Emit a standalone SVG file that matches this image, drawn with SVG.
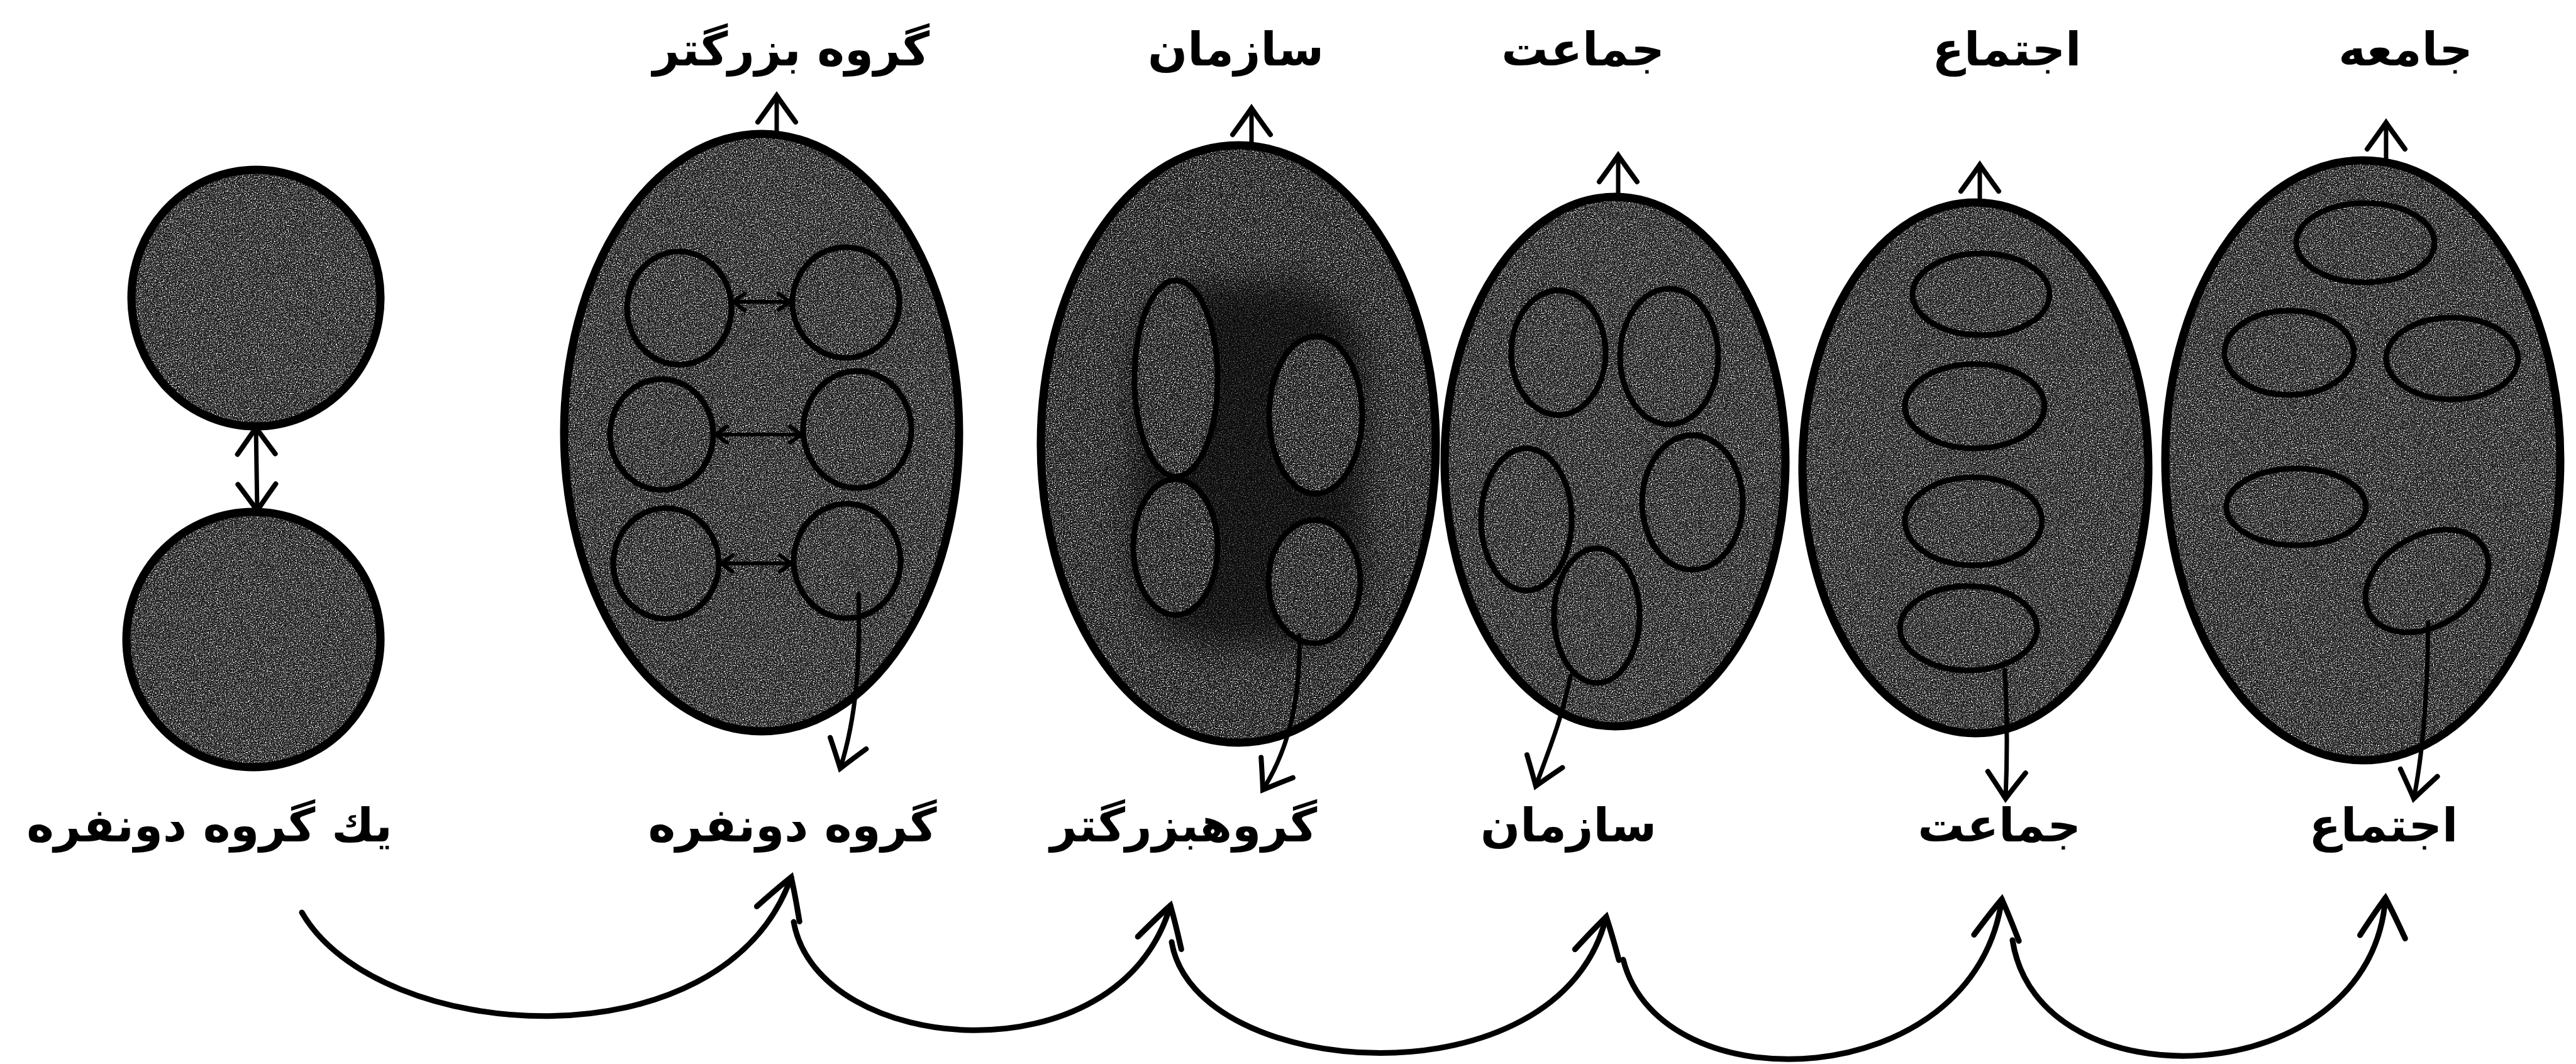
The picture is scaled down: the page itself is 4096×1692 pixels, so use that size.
<svg xmlns="http://www.w3.org/2000/svg" width="4096" height="1692" viewBox="0 0 4096 1692">
<defs>
<style>
.fill{fill:#363636;filter:url(#grain)}
.fill.dark{fill:#2a2a2a}
.rim{fill:none;stroke:#000;stroke-width:13}
.sub{fill:none;stroke:#000;stroke-width:9}
.shade{fill:#000;opacity:0.6;filter:url(#soft)}
.lbl{font-family:"DejaVu Sans",sans-serif;font-size:74px;font-weight:bold;fill:#000;text-anchor:middle}
.arc{fill:none;stroke:#000;stroke-width:9;stroke-linecap:round;marker-end:url(#head)}
.out{fill:none;stroke:#000;stroke-width:7;stroke-linecap:round;marker-end:url(#headSm)}
.dbl{fill:none;stroke:#000;stroke-width:7;marker-start:url(#headSm);marker-end:url(#headSm)}
.link{fill:none;stroke:#000;stroke-width:6;marker-start:url(#headTiny);marker-end:url(#headTiny)}
</style>
<filter id="grain" x="0" y="0" width="1" height="1" color-interpolation-filters="sRGB">
<feTurbulence type="fractalNoise" baseFrequency="0.55" numOctaves="2" seed="4" result="n"/>
<feColorMatrix in="n" type="matrix" values="0 0 0 0 1 0 0 0 0 1 0 0 0 0 1 4 0 0 0 -1.9" result="w"/>
<feColorMatrix in="n" type="matrix" values="0 0 0 0 0 0 0 0 0 0 0 0 0 0 0 0 4 0 0 -1.8" result="k"/>
<feComposite in="w" in2="SourceAlpha" operator="in" result="ws"/>
<feComposite in="k" in2="SourceAlpha" operator="in" result="ks"/>
<feMerge><feMergeNode in="SourceGraphic"/><feMergeNode in="ws"/><feMergeNode in="ks"/></feMerge>
</filter>
<filter id="soft" x="-20%" y="-20%" width="140%" height="140%">
<feGaussianBlur stdDeviation="25"/>
</filter>
<marker id="head" viewBox="-70 -50 80 100" refX="0" refY="0" markerWidth="80" markerHeight="100" markerUnits="userSpaceOnUse" orient="auto-start-reverse" overflow="visible">
<path d="M -62 -36 Q -22 -14 0 0 Q -22 14 -62 36" fill="none" stroke="#000" stroke-width="9" stroke-linecap="round"/>
</marker>
<marker id="headSm" viewBox="-50 -40 60 80" refX="0" refY="0" markerWidth="60" markerHeight="80" markerUnits="userSpaceOnUse" orient="auto-start-reverse" overflow="visible">
<path d="M -42 -30 Q -16 -11 0 0 Q -16 11 -42 30" fill="none" stroke="#000" stroke-width="8" stroke-linecap="round"/>
</marker>
<marker id="headTiny" viewBox="-25 -20 30 40" refX="0" refY="0" markerWidth="30" markerHeight="40" markerUnits="userSpaceOnUse" orient="auto-start-reverse" overflow="visible">
<path d="M -18 -13 L 0 0 L -18 13" fill="none" stroke="#000" stroke-width="6" stroke-linecap="round"/>
</marker>
</defs>
<rect width="4096" height="1692" fill="#fff"/>

<g id="node-dyad">
<ellipse class="fill" cx="407" cy="474" rx="198" ry="204"/>
<ellipse class="rim" cx="407" cy="474" rx="198" ry="204"/>
<ellipse class="fill" cx="403" cy="1017" rx="202" ry="203"/>
<ellipse class="rim" cx="403" cy="1017" rx="202" ry="203"/>
<text class="lbl" x="333" y="1338">يك گروه دونفره</text>
</g>

<g id="node-group">
<ellipse class="fill" cx="1211" cy="688" rx="314" ry="475"/>
<ellipse class="rim" cx="1211" cy="688" rx="314" ry="475"/>
<ellipse class="sub" cx="1080" cy="490" rx="83" ry="90"/>
<ellipse class="sub" cx="1345" cy="481" rx="85" ry="88"/>
<ellipse class="sub" cx="1052" cy="691" rx="82" ry="88"/>
<ellipse class="sub" cx="1363" cy="683" rx="86" ry="93"/>
<ellipse class="sub" cx="1059" cy="896" rx="84" ry="88"/>
<ellipse class="sub" cx="1347" cy="892" rx="85" ry="91"/>
<path class="link" d="M 1166 480 L 1256 480"/>
<path class="link" d="M 1138 691 L 1274 691"/>
<path class="link" d="M 1147 896 L 1258 896"/>
<text class="lbl" x="1258" y="104">گروه بزرگتر</text>
<text class="lbl" x="1260" y="1338">گروه دونفره</text>
</g>

<g id="node-organization">
<ellipse class="fill dark" cx="1969" cy="706" rx="314" ry="475"/>
<ellipse class="rim" cx="1969" cy="706" rx="314" ry="475"/>
<rect class="shade" x="1805" y="448" width="365" height="578" rx="130"/>
<ellipse class="fill dark" cx="1870" cy="602" rx="66" ry="156"/>
<ellipse class="fill dark" cx="1869" cy="870" rx="67" ry="108"/>
<ellipse class="fill dark" cx="2092" cy="660" rx="74" ry="125"/>
<ellipse class="fill dark" cx="2090" cy="925" rx="73" ry="98"/>
<ellipse class="sub" cx="1870" cy="602" rx="66" ry="156"/>
<ellipse class="sub" cx="1869" cy="870" rx="67" ry="108"/>
<ellipse class="sub" cx="2092" cy="660" rx="74" ry="125"/>
<ellipse class="sub" cx="2090" cy="925" rx="73" ry="98"/>
<text class="lbl" x="1965" y="104">سازمان</text>
<text class="lbl" x="1882" y="1338">گروهبزرگتر</text>
</g>

<g id="node-community">
<ellipse class="fill" cx="2568" cy="734" rx="271" ry="421"/>
<ellipse class="rim" cx="2568" cy="734" rx="271" ry="421"/>
<ellipse class="sub" cx="2478" cy="561" rx="75" ry="99"/>
<ellipse class="sub" cx="2654" cy="567" rx="78" ry="108"/>
<ellipse class="sub" cx="2427" cy="826" rx="72" ry="113"/>
<ellipse class="sub" cx="2691" cy="799" rx="80" ry="107"/>
<ellipse class="sub" cx="2539" cy="979" rx="68" ry="107"/>
<text class="lbl" x="2517" y="104">جماعت</text>
<text class="lbl" x="2494" y="1338">سازمان</text>
</g>

<g id="node-assembly">
<ellipse class="fill" cx="3141" cy="744" rx="275" ry="422"/>
<ellipse class="rim" cx="3141" cy="744" rx="275" ry="422"/>
<ellipse class="sub" cx="3150" cy="468" rx="109" ry="65"/>
<ellipse class="sub" cx="3140" cy="646" rx="111" ry="67"/>
<ellipse class="sub" cx="3138" cy="829" rx="109" ry="70"/>
<ellipse class="sub" cx="3130" cy="999" rx="109" ry="67"/>
<text class="lbl" x="3191" y="104">اجتماع</text>
<text class="lbl" x="3179" y="1338">جماعت</text>
</g>

<g id="node-society">
<ellipse class="fill" cx="3757" cy="732" rx="314" ry="477"/>
<ellipse class="rim" cx="3757" cy="732" rx="314" ry="477"/>
<ellipse class="sub" cx="3761" cy="386" rx="110" ry="63"/>
<ellipse class="sub" cx="3640" cy="561" rx="103" ry="67"/>
<ellipse class="sub" cx="3899" cy="570" rx="105" ry="65"/>
<ellipse class="sub" cx="3651" cy="806" rx="111" ry="61"/>
<ellipse class="sub" cx="3859" cy="924" rx="105" ry="72" transform="rotate(-30 3859 924)"/>
<text class="lbl" x="3825" y="104">جامعه</text>
<text class="lbl" x="3790" y="1338">اجتماع</text>
</g>

<g id="connectors">
<path class="dbl" d="M 407 680 L 409 812"/>
<path class="out" d="M 1235 212 L 1235 152"/>
<path class="out" d="M 1990 228 L 1990 172"/>
<path class="out" d="M 2573 312 L 2573 247"/>
<path class="out" d="M 3148 322 L 3148 262"/>
<path class="out" d="M 3794 254 L 3794 195"/>
<path class="out" d="M 1365 945 C 1368 1050, 1362 1140, 1336 1222"/>
<path class="out" d="M 2066 1010 C 2068 1110, 2050 1190, 2008 1256"/>
<path class="out" d="M 2497 1075 C 2485 1140, 2460 1200, 2442 1250"/>
<path class="out" d="M 3188 1066 C 3192 1140, 3192 1200, 3189 1270"/>
<path class="out" d="M 3861 990 C 3860 1100, 3852 1200, 3838 1270"/>
<path class="arc" d="M 480 1451 C 600 1660, 1150 1700, 1258 1395"/>
<path class="arc" d="M 1262 1466 C 1300 1680, 1780 1720, 1861 1440"/>
<path class="arc" d="M 1863 1498 C 1900 1720, 2480 1760, 2554 1458"/>
<path class="arc" d="M 2581 1526 C 2640 1760, 3140 1740, 3183 1430"/>
<path class="arc" d="M 3200 1495 C 3240 1760, 3770 1740, 3793 1428"/>
</g>
</svg>
